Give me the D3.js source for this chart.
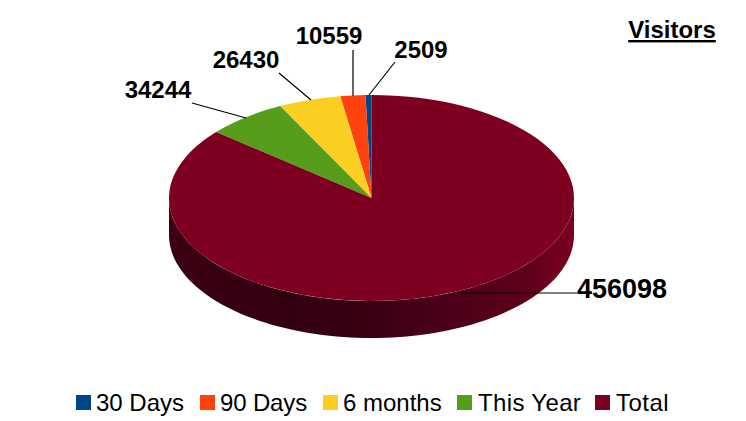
<!DOCTYPE html>
<html><head><meta charset="utf-8">
<script src="https://cdn.jsdelivr.net/npm/d3@7"></script>
<style>html,body{margin:0;padding:0;background:#fff}svg{display:block}text{font-family:"Liberation Sans",Arial,sans-serif;fill:#000}</style>
</head><body><svg width="746" height="421"></svg>
<script>
const categories = ["30 Days","90 Days","6 months","This Year","Total"];
const values = [2509,10559,26430,34244,456098];
const colors = ["#004586","#ff420e","#fbcf22","#579d1c","#7e0021"];
const W=746,H=421,cx=371.5,cy=198,rx=202.5,ry=103,depth=37;
const svg=d3.select("svg");
const defs=svg.append("defs");
const grad=defs.append("linearGradient").attr("id","side").attr("gradientUnits","userSpaceOnUse")
  .attr("x1",cx-rx).attr("x2",cx+rx).attr("y1",0).attr("y2",0);
[[0,"#3c0013"],[0.3,"#33000f"],[0.5,"#3a0012"],[0.7,"#4c0018"],[0.88,"#5e001b"],[1,"#7a0020"]]
  .forEach(s=>grad.append("stop").attr("offset",s[0]).attr("stop-color",s[1]));
// side wall
const th=d3.range(0,181,2).map(d=>d*Math.PI/180);
svg.append("path").attr("fill","url(#side)")
  .attr("d",d3.area().x(t=>cx+rx*Math.cos(t)).y0(t=>cy+ry*Math.sin(t)).y1(t=>cy+ry*Math.sin(t)+depth)(th));
// top face
const pie=d3.pie().sort(null).startAngle(0).endAngle(-2*Math.PI);
const arc=d3.arc().innerRadius(0).outerRadius(rx);
svg.append("g").attr("transform",`translate(${cx},${cy}) scale(1,${ry/rx})`)
  .selectAll("path").data(pie(values)).join("path")
  .attr("d",arc).attr("fill",(d,i)=>colors[i]);
// leader lines and labels
const leaders=[[395,62,369,95],[353,50,353,96],[279,73,311,100],[192,103,246,118],[577,293,459,293]];
const labelPos=[[421,58,24],[329,44,24],[246,68,24],[158,98,24],[622,298,27]];
svg.append("g").selectAll("line").data(leaders).join("line")
  .attr("x1",d=>d[0]).attr("y1",d=>d[1]).attr("x2",d=>d[2]).attr("y2",d=>d[3])
  .attr("stroke","#000").attr("stroke-width",1.2);
svg.append("g").selectAll("text").data(values).join("text")
  .attr("x",(d,i)=>labelPos[i][0]).attr("y",(d,i)=>labelPos[i][1])
  .attr("text-anchor","middle").attr("font-weight","bold")
  .attr("font-size",(d,i)=>labelPos[i][2]).text(d=>d);
// title
svg.append("text").attr("x",672).attr("y",38).attr("text-anchor","middle")
  .attr("font-size",24).attr("font-weight","bold").attr("text-decoration","underline").text("Visitors");
// legend
const lx=[76,200,323,457,595];
const ltx=[20,20,20,21,21];
const lsp=[0,-0.15,0,0.35,0.5];
const lg=svg.append("g").selectAll("g").data(categories).join("g")
  .attr("transform",(d,i)=>`translate(${lx[i]},395)`);
lg.append("rect").attr("width",15).attr("height",15).attr("fill",(d,i)=>colors[i]);
lg.append("text").attr("x",(d,i)=>ltx[i]).attr("y",16).attr("font-size",24)
  .attr("letter-spacing",(d,i)=>lsp[i]).text(d=>d);
</script></body></html>
